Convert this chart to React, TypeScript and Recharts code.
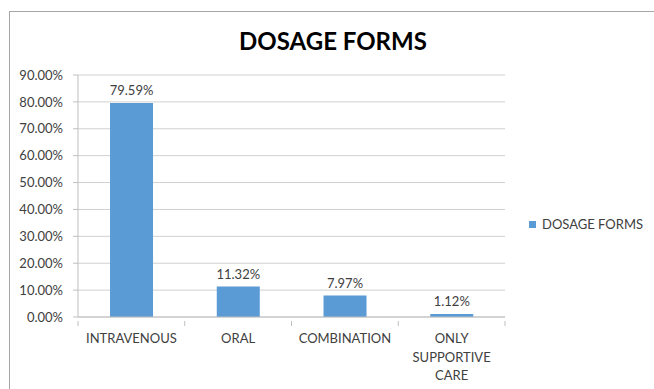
import { BarChart, Bar, XAxis, YAxis, CartesianGrid, LabelList } from "recharts";

const categories = ["INTRAVENOUS", "ORAL", "COMBINATION", "ONLY SUPPORTIVE CARE"];
const shares = [79.59, 11.32, 7.97, 1.12];
const yTicks = [0, 10, 20, 30, 40, 50, 60, 70, 80, 90];
const seriesName = "DOSAGE FORMS";

const data = categories.map((c, i) => ({ name: c, value: shares[i] }));

const FONT = "Lato, 'Open Sans', sans-serif";
const AXIS = "#bfbfbf";

// splits long labels into lines that fit the category width
function wrap(text: string, max: number) {
  const words = text.split(" ");
  const lines: string[] = [];
  let cur = "";
  words.forEach((w) => {
    const next = cur ? cur + " " + w : w;
    if (next.length > max && cur) {
      lines.push(cur);
      cur = w;
    } else cur = next;
  });
  if (cur) lines.push(cur);
  return lines;
}

function CategoryTick(props: any) {
  const { x, y, payload, index } = props;
  const half = payload?.offset ?? 0;
  const lines = wrap(String(payload.value), 12);
  return (
    <g>
      <line x1={x - half} x2={x - half} y1={y - 4} y2={y + 1} stroke={AXIS} />
      {index === categories.length - 1 && (
        <line x1={x + half} x2={x + half} y1={y - 4} y2={y + 1} stroke={AXIS} />
      )}
      <text x={x} y={y + 18} textAnchor="middle" fontSize={13} fill="#404040" fontFamily={FONT}>
        {lines.map((l, i) => (
          <tspan key={i} x={x} dy={i === 0 ? 0 : 18.5}>
            {l}
          </tspan>
        ))}
      </text>
    </g>
  );
}

export default function App() {
  return (
    <div
      style={{
        position: "absolute",
        left: 0,
        top: 0,
        width: 654,
        height: 389,
        overflow: "hidden",
        background: "#fff",
        fontFamily: FONT,
      }}
    >
      {/* chart frame */}
      <div
        style={{
          position: "absolute",
          left: 9,
          top: 11,
          width: 700,
          height: 420,
          border: "1px solid #a6a6a6",
        }}
      />

      {/* Title */}
      <div
        style={{
          position: "absolute",
          left: 0,
          width: 666,
          top: 26,
          textAlign: "center",
          fontSize: 24,
          fontWeight: 700,
          color: "#000",
        }}
      >
        {seriesName}
      </div>

      <div style={{ position: "absolute", left: 0, top: 0 }}>
        <BarChart
          width={654}
          height={389}
          data={data}
          margin={{ top: 75, right: 149, bottom: 0, left: 10 }}
          barCategoryGap="30%"
        >
          <CartesianGrid vertical={false} stroke="#d0d0d0" />
          <XAxis
            dataKey="name"
            interval={0}
            height={72}
            tickLine={false}
            stroke={AXIS}
            tick={<CategoryTick />}
          />
          <YAxis
            width={68}
            domain={[0, 90]}
            ticks={yTicks}
            interval={0}
            tickSize={5}
            tickMargin={10}
            stroke={AXIS}
            tick={{ fontSize: 13, fill: "#404040", fontFamily: FONT }}
            tickFormatter={(v) => `${Number(v).toFixed(2)}%`}
          />
          <Bar dataKey="value" name={seriesName} fill="#5b9bd5" isAnimationActive={false}>
            <LabelList
              dataKey="value"
              position="top"
              offset={8}
              fill="#404040"
              fontSize={13}
              fontFamily={FONT}
              formatter={(v: any) => `${Number(v).toFixed(2)}%`}
            />
          </Bar>
        </BarChart>
      </div>

      {/* Legend */}
      <div
        style={{
          position: "absolute",
          left: 529,
          top: 216,
          display: "flex",
          alignItems: "center",
          fontSize: 13,
          color: "#404040",
        }}
      >
        <span style={{ width: 7, height: 7, background: "#5b9bd5", marginRight: 6 }} />
        {seriesName}
      </div>
    </div>
  );
}
